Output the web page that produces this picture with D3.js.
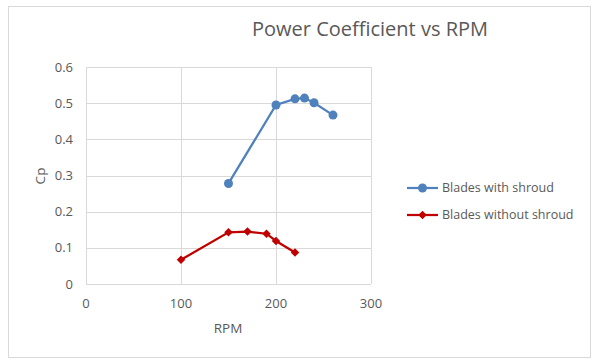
<!DOCTYPE html>
<html>
<head>
<meta charset="utf-8">
<script src="https://cdn.jsdelivr.net/npm/d3@7"></script>
<style>
  body { margin: 0; background: #fff; }
  text { font-family: "Open Sans", "Liberation Sans", sans-serif; fill: #595959; }
</style>
</head>
<body>
<svg id="chart" width="596" height="362"></svg>
<script>
// data
const seriesNames = ["Blades with shroud", "Blades without shroud"];
const shroudRpm = [150, 200, 220, 230, 240, 260];
const shroudCp = [0.278, 0.495, 0.512, 0.514, 0.501, 0.467];
const noShroudRpm = [100, 150, 170, 190, 200, 220];
const noShroudCp = [0.067, 0.143, 0.145, 0.139, 0.119, 0.087];
const xTicks = [0, 100, 200, 300];
const yTicks = [0, 0.1, 0.2, 0.3, 0.4, 0.5, 0.6];

var svg = d3.select("#chart");

// outer border
svg.append("rect")
   .attr("x", 8.5).attr("y", 6.5)
   .attr("width", 582).attr("height", 351)
   .attr("fill", "#fff")
   .attr("stroke", "#d9d9d9");

var x = d3.scaleLinear().domain([0, 300]).range([86, 371]);
var y = d3.scaleLinear().domain([0, 0.6]).range([284, 67]);

// grid
svg.append("g").selectAll("line")
   .data(yTicks)
   .enter().append("line")
   .attr("x1", x(0)).attr("x2", x(300))
   .attr("y1", function(d) { return Math.round(y(d)) + 0.5; })
   .attr("y2", function(d) { return Math.round(y(d)) + 0.5; })
   .attr("stroke", "#d9d9d9");

svg.append("g").selectAll("line")
   .data(xTicks)
   .enter().append("line")
   .attr("x1", function(d) { return Math.round(x(d)) + 0.5; })
   .attr("x2", function(d) { return Math.round(x(d)) + 0.5; })
   .attr("y1", y(0)).attr("y2", y(0.6))
   .attr("stroke", "#d9d9d9");

// tick labels
svg.append("g").selectAll("text")
   .data(yTicks)
   .enter().append("text")
   .attr("x", 73)
   .attr("y", function(d) { return y(d); })
   .attr("dy", "0.35em")
   .attr("text-anchor", "end")
   .attr("font-size", 13)
   .text(function(d) { return d === 0 ? "0" : d3.format(".1f")(d); });

svg.append("g").selectAll("text")
   .data(xTicks)
   .enter().append("text")
   .attr("x", function(d) { return x(d); })
   .attr("y", 303)
   .attr("dy", "0.35em")
   .attr("text-anchor", "middle")
   .attr("font-size", 13)
   .text(function(d) { return d; });

// axis titles
svg.append("text")
   .attr("x", 228).attr("y", 328)
   .attr("dy", "0.35em")
   .attr("text-anchor", "middle")
   .attr("font-size", 13.5)
   .text("RPM");

svg.append("text")
   .attr("transform", "translate(40,176) rotate(-90)")
   .attr("dy", "0.35em")
   .attr("text-anchor", "middle")
   .attr("font-size", 13.5)
   .text("Cp");

// title
svg.append("text")
   .attr("x", 370).attr("y", 29)
   .attr("dy", "0.35em")
   .attr("text-anchor", "middle")
   .attr("font-size", 20)
   .text("Power Coefficient vs RPM");

var line = d3.line()
   .x(function(d) { return x(d[0]); })
   .y(function(d) { return y(d[1]); });

var blue = "#4f81bd", red = "#c00000";
var shroud = d3.zip(shroudRpm, shroudCp);
var noShroud = d3.zip(noShroudRpm, noShroudCp);

svg.append("path").datum(shroud)
   .attr("d", line).attr("fill", "none")
   .attr("stroke", blue).attr("stroke-width", 2.25);
svg.append("g").selectAll("circle")
   .data(shroud).enter().append("circle")
   .attr("cx", function(d) { return x(d[0]); })
   .attr("cy", function(d) { return y(d[1]); })
   .attr("r", 4.5)
   .attr("fill", blue);

var diamond = d3.symbol().type(d3.symbolDiamond2).size(46);

svg.append("path").datum(noShroud)
   .attr("d", line).attr("fill", "none")
   .attr("stroke", red).attr("stroke-width", 2.25);
svg.append("g").selectAll("path")
   .data(noShroud).enter().append("path")
   .attr("d", diamond)
   .attr("transform", function(d) { return "translate(" + x(d[0]) + "," + y(d[1]) + ")"; })
   .attr("fill", red);

// legend
var legend = svg.append("g").selectAll("g")
   .data(seriesNames).enter().append("g")
   .attr("transform", function(d, i) { return "translate(407," + (188 + i * 27) + ")"; });

legend.append("line")
   .attr("x1", 0).attr("x2", 31)
   .attr("stroke", function(d, i) { return i === 0 ? blue : red; })
   .attr("stroke-width", 2.25);
legend.filter(function(d, i) { return i === 0; })
   .append("circle").attr("cx", 15.5).attr("r", 4.5).attr("fill", blue);
legend.filter(function(d, i) { return i === 1; })
   .append("path").attr("d", diamond).attr("transform", "translate(15.5,0)").attr("fill", red);

legend.append("text")
   .attr("x", 35)
   .attr("dy", "0.35em")
   .attr("font-size", 12.5)
   .text(function(d) { return d; });
</script>
</body>
</html>
